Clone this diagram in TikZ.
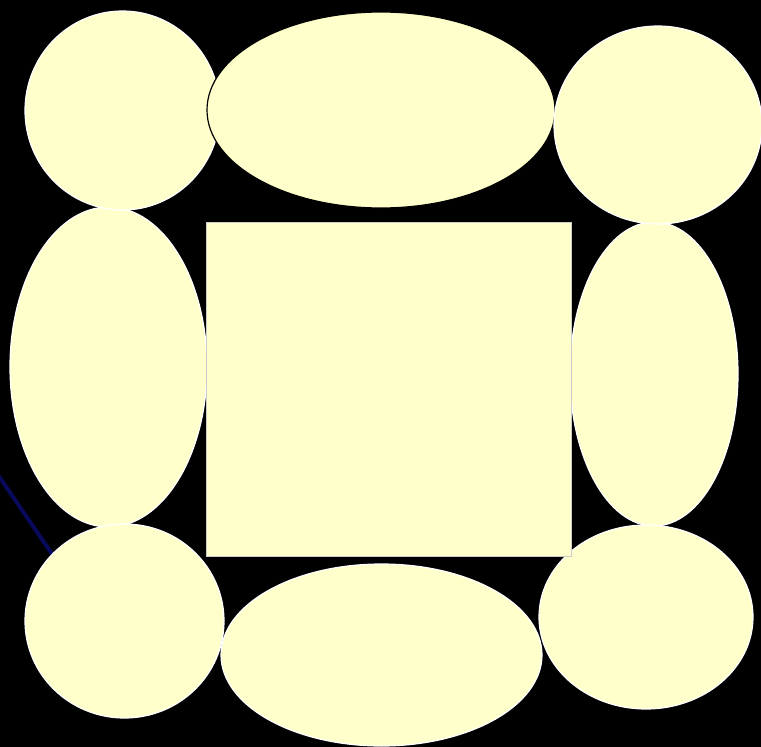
\documentclass[tikz,border=0pt]{standalone}
\begin{document}
\begin{tikzpicture}[x=1pt,y=-1pt,
  blob/.style={fill=cream, draw=white, line width=1.2pt},
  darkblob/.style={fill=cream, draw=black, line width=1.2pt}]
\definecolor{cream}{HTML}{FFFFCC}
\definecolor{navyline}{HTML}{0A0A5C}
\fill[black] (0,0) rectangle (761,747);
\useasboundingbox (0,0) rectangle (761,747);
\draw[navyline, line width=4pt] (-2,475) -- (52,554);
% left middle
\draw[blob] (108.5,367) ellipse [x radius=98.5, y radius=160];
% right middle
\draw[blob] (654,374) ellipse [x radius=84, y radius=152];
% top left
\draw[blob] (122.5,110.5) ellipse [x radius=97.5, y radius=99.5];
% top center
\draw[darkblob] (381,110) ellipse [x radius=174, y radius=98];
% top right
\draw[blob] (658,125) ellipse [x radius=104, y radius=99];
% bottom left
\draw[blob] (124.5,621) ellipse [x radius=99.5, y radius=97];
% bottom center
\draw[blob] (381.5,655) ellipse [x radius=160.5, y radius=91];
% bottom right
\draw[blob] (646,617) ellipse [x radius=107, y radius=92];
% central square
\draw[fill=cream, draw=gray!40, line width=1pt] (206,222) rectangle (571,556);
\end{tikzpicture}
\end{document}
